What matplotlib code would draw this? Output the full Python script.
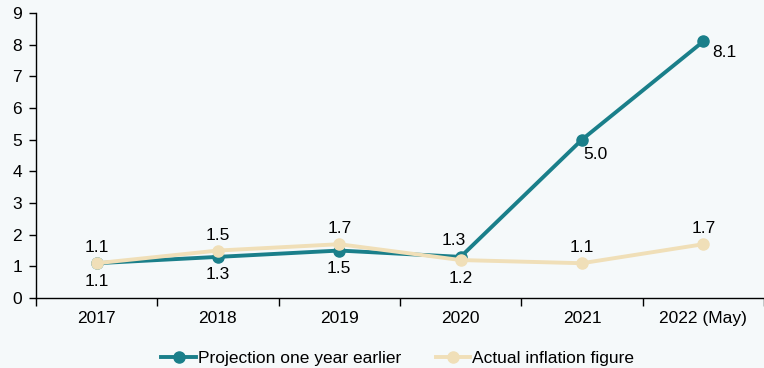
import numpy as np
import matplotlib.pyplot as plt

plt.rcParams['font.family'] = ['Liberation Sans', 'DejaVu Sans']

years = ['2017', '2018', '2019', '2020', '2021', '2022 (May)']
projection = [1.1, 1.3, 1.5, 1.3, 5.0, 8.1]
actual = [1.1, 1.5, 1.7, 1.2, 1.1, 1.7]

# label placement (offset in points) for each series
proj_off = [(0, -13), (0, -13), (0, -13), (-5, 12), (10, -11), (15, -8)]
act_off = [(0, 11), (0, 11), (0, 11), (0, -13), (0, 11), (0, 11)]

bg = '#f5f9fa'
teal = '#1a7f8a'
cream = '#f0dfb8'
fs = 12.5

fig = plt.figure(figsize=(7.64, 3.68), dpi=100, facecolor=bg)
ax = fig.add_axes([0.047, 0.19, 0.953, 0.775], facecolor=bg)

x = np.arange(len(years))
ax.plot(x, projection, color=teal, lw=2.8, marker='o', ms=8,
        label='Projection one year earlier', zorder=3)
ax.plot(x, actual, color=cream, lw=2.8, marker='o', ms=8,
        label='Actual inflation figure', zorder=4)

for i in range(len(x)):
    ax.annotate('%.1f' % projection[i], (x[i], projection[i]), xytext=proj_off[i],
                textcoords='offset points', ha='center', va='center', fontsize=fs)
    ax.annotate('%.1f' % actual[i], (x[i], actual[i]), xytext=act_off[i],
                textcoords='offset points', ha='center', va='center', fontsize=fs)

ax.set_xlim(-0.5, 5.5)
ax.set_ylim(0, 9)
ax.set_yticks(range(10))
ax.set_xticks(x)
ax.set_xticklabels(years)
ax.set_xticks(np.arange(-0.5, 6, 1), minor=True)
ax.tick_params(axis='x', which='major', length=0, pad=9, labelsize=fs)
ax.tick_params(axis='x', which='minor', length=6, width=1)
ax.tick_params(axis='y', length=5, width=1, labelsize=fs, pad=5)

for s in ['top', 'right']:
    ax.spines[s].set_visible(False)
ax.spines['left'].set_linewidth(1)
ax.spines['bottom'].set_linewidth(1)

ax.legend(loc='upper center', bbox_to_anchor=(0.497, -0.13), ncol=2, frameon=False,
          fontsize=fs, handlelength=2.0, handletextpad=0.1, columnspacing=2.0)

fig.savefig('out.png', dpi=100, facecolor=bg)
